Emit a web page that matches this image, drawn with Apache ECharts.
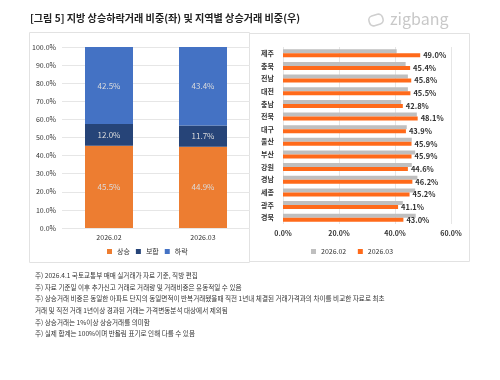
<!DOCTYPE html>
<html><head><meta charset="utf-8">
<script src="https://cdn.jsdelivr.net/npm/echarts@6/dist/echarts.min.js"></script>
<style>html,body{margin:0;padding:0;background:#fff}#c{width:500px;height:380px}</style>
</head><body><div id="c"></div>
<script>
const periods = ['2026.02', '2026.03'];
const upShare = [45.5, 44.9];
const flatShare = [12.0, 11.7];
const downShare = [42.5, 43.4];
const leftNames = ['상승', '보합', '하락'];
const regions = ['제주','충북','전남','대전','충남','전북','대구','울산','부산','강원','경남','세종','광주','경북'];
const regionFeb = [40.6, 43.8, 44.6, 44.6, 42.2, 47.8, 44.2, 46.0, 47.2, 46.0, 48.0, 47.2, 42.8, 47.4];
const regionMar = [49.0, 45.4, 45.8, 45.5, 42.8, 48.1, 43.9, 45.9, 45.9, 44.6, 46.2, 45.2, 41.1, 43.0];
const titleText = '[그림 5] 지방 상승하락거래 비중(좌) 및 지역별 상승거래 비중(우)';
const notes = [
 '주) 2026.4.1 국토교통부 매매 실거래가 자료 기준, 직방 편집',
 '주) 자료 기준일 이후 추가신고 거래로 거래량 및 거래비중은 유동적일 수 있음',
 '주) 상승거래 비중은 동일한 아파트 단지의 동일면적이 반복거래됐을때 직전 1년내 체결된 거래가격과의 차이를 비교한 자료로 최초',
 '거래 및 직전 거래 1년이상 경과된 거래는 가격변동분석 대상에서 제외됨',
 '주) 상승거래는 1%이상 상승거래를 의미함',
 '주) 실제 합계는 100%이며 반올림 표기로 인해 다를 수 있음'
];
const FONT = '"Noto Sans CJK KR", sans-serif';
const chart = echarts.init(document.getElementById('c'), null, {renderer:'canvas'});
const pct = v => v.value.toFixed(1) + '%';
const innerLabel = {show:true, position:'inside', formatter:pct, color:'#dcdcdc', fontSize:8, fontFamily:FONT};
const graphics = [
  {type:'text', left:30, top:13, style:{text:titleText, font:'bold 10.1px '+FONT, fill:'#222'}},
  {type:'text', left:390, top:11, style:{text:'zigbang', font:'16px '+FONT, fill:'#c8c8c8'}},
  {type:'rect', shape:{x:369, y:15, width:14, height:10, r:4}, rotation:0.3, originX:376, originY:20, style:{fill:'none', stroke:'#cfcfcf', lineWidth:1.6}},
  {type:'rect', shape:{x:29.5, y:32.5, width:220, height:230}, style:{fill:'none', stroke:'#e2e2e2', lineWidth:1}},
  {type:'rect', shape:{x:249.5, y:33.5, width:220, height:228}, style:{fill:'none', stroke:'#e2e2e2', lineWidth:1}}
];
notes.forEach((t,i)=>{
  graphics.push({type:'text', left:35, top:272 + i*11.7, style:{text:t, font:'6.6px '+FONT, fill:'#333'}});
});
chart.setOption({
  animation:false,
  textStyle:{fontFamily:FONT},
  graphic:graphics,
  grid:[
    {left:62, top:47, width:188, height:181},
    {left:283, top:47, width:168, height:177}
  ],
  legend:[
    {data:leftNames, top:243, left:102, itemWidth:5, itemHeight:5, itemGap:6, textStyle:{fontSize:7, color:'#333'}, icon:'rect'},
    {data:periods.map(p=>p+' '), top:243, left:306, itemWidth:5, itemHeight:5, itemGap:10, textStyle:{fontSize:7, color:'#333'}, icon:'rect'}
  ],
  xAxis:[
    {gridIndex:0, type:'category', data:periods, axisLine:{show:false}, axisTick:{show:false}, axisLabel:{fontSize:7, color:'#333', margin:6}},
    {gridIndex:1, type:'value', min:0, max:60, interval:20, axisLabel:{formatter:v=>v.toFixed(1)+'%', fontSize:7, color:'#333', margin:6, fontWeight:'bold'}, splitLine:{lineStyle:{color:'#e6e6e6'}}}
  ],
  yAxis:[
    {gridIndex:0, type:'value', min:0, max:100, interval:10, axisLabel:{formatter:v=>v.toFixed(1)+'%', fontSize:7, color:'#333', margin:6}, splitLine:{lineStyle:{color:'#e6e6e6'}}},
    {gridIndex:1, type:'category', data:regions, inverse:true, axisLine:{show:false}, axisTick:{show:false}, axisLabel:{fontSize:7, color:'#333', margin:9, fontWeight:'bold'}}
  ],
  series:[
    {name:'상승', type:'bar', stack:'a', xAxisIndex:0, yAxisIndex:0, data:upShare, barWidth:48, itemStyle:{color:'#ED7D31'}, label:innerLabel},
    {name:'보합', type:'bar', stack:'a', xAxisIndex:0, yAxisIndex:0, data:flatShare, barWidth:48, itemStyle:{color:'#264478'}, label:innerLabel},
    {name:'하락', type:'bar', stack:'a', xAxisIndex:0, yAxisIndex:0, data:downShare, barWidth:48, itemStyle:{color:'#4472C4'}, label:innerLabel},
    {name:periods[0]+' ', type:'bar', xAxisIndex:1, yAxisIndex:1, data:regionFeb, barWidth:4, barGap:'0%', itemStyle:{color:'#BFBFBF'}},
    {name:periods[1]+' ', type:'bar', xAxisIndex:1, yAxisIndex:1, data:regionMar, barWidth:4, barGap:'0%', itemStyle:{color:'#FF6A1A'},
     label:{show:true, position:'right', formatter:pct, fontSize:7.5, color:'#333', fontWeight:'bold', distance:3}}
  ]
});
</script></body></html>
